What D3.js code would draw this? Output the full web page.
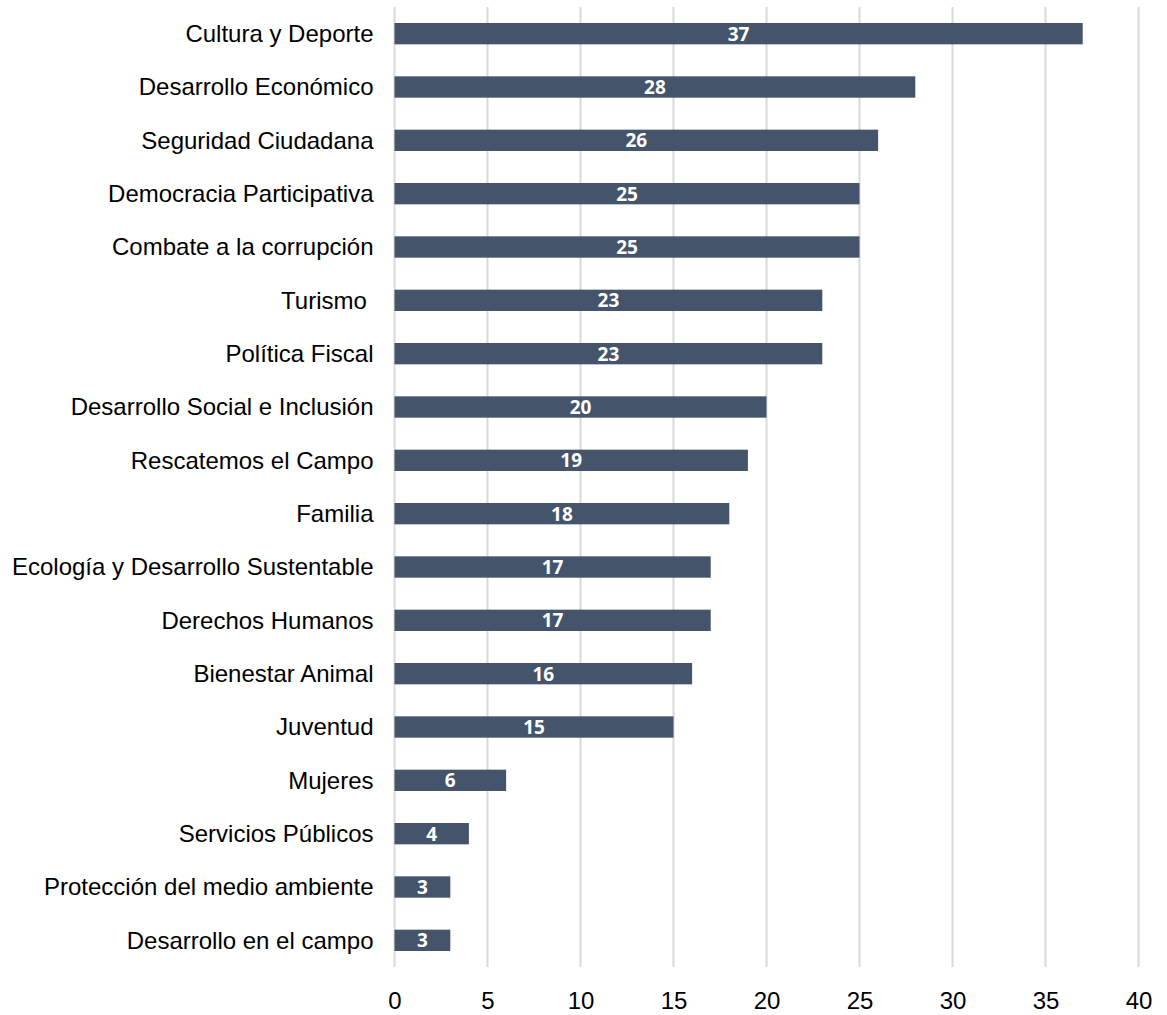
<!DOCTYPE html>
<html><head><meta charset="utf-8">
<script src="https://cdn.jsdelivr.net/npm/d3@7"></script>
<style>body{margin:0;background:#fff;} svg{display:block;}</style>
</head><body>
<script>
const categories = ["Cultura y Deporte","Desarrollo Económico","Seguridad Ciudadana","Democracia Participativa","Combate a la corrupción","Turismo ","Política Fiscal","Desarrollo Social e Inclusión","Rescatemos el Campo","Familia","Ecología y Desarrollo Sustentable","Derechos Humanos","Bienestar Animal","Juventud","Mujeres","Servicios Públicos","Protección del medio ambiente","Desarrollo en el campo"];
const values = [37,28,26,25,25,23,23,20,19,18,17,17,16,15,6,4,3,3];
const xTicks = [0,5,10,15,20,25,30,35,40];

const W = 1167, H = 1015;
const svg = d3.select("body").append("svg").attr("width", W).attr("height", H);
const x = d3.scaleLinear().domain([0, 40]).range([394.5, 1138.5]);
const y = d3.scaleBand().domain(categories).range([7, 967]).paddingInner(0.6).paddingOuter(0.3);

// gridlines
svg.append("g").selectAll("line").data(xTicks).join("line")
  .attr("x1", d => x(d)).attr("x2", d => x(d))
  .attr("y1", 7).attr("y2", 967)
  .attr("stroke", "#d9d9d9").attr("stroke-width", 2);

// bars
svg.append("g").selectAll("rect").data(values).join("rect")
  .attr("x", x(0)).attr("y", (d, i) => y(categories[i]))
  .attr("width", d => x(d) - x(0)).attr("height", y.bandwidth())
  .attr("fill", "#44546A");

// value labels
svg.append("g").selectAll("text").data(values).join("text")
  .attr("x", d => x(d / 2)).attr("y", (d, i) => y(categories[i]) + y.bandwidth() / 2 + 7)
  .attr("text-anchor", "middle")
  .attr("fill", "#fff").attr("font-family", "'Open Sans', sans-serif")
  .attr("font-weight", "bold").attr("font-size", 19)
  .text(d => d);

// category labels
const yAxis = d3.axisLeft(y).tickSize(0).tickPadding(21);
const gy = svg.append("g").attr("transform", `translate(${x(0)},0)`).call(yAxis);
gy.select(".domain").remove();
gy.selectAll("text").attr("font-family", "'Liberation Sans', Arial, sans-serif")
  .attr("font-size", 24).attr("fill", "#000").attr("dy", "0.35em")
  .style("white-space", "pre");

// x axis labels
const xAxis = d3.axisBottom(x).tickValues(xTicks).tickSize(0).tickPadding(0);
const gx = svg.append("g").attr("transform", `translate(0,1009)`).call(xAxis);
gx.select(".domain").remove();
gx.selectAll("text").attr("font-family", "'Liberation Sans', Arial, sans-serif")
  .attr("font-size", 24).attr("fill", "#000").attr("y", 0).attr("dy", null);
</script>
</body></html>
